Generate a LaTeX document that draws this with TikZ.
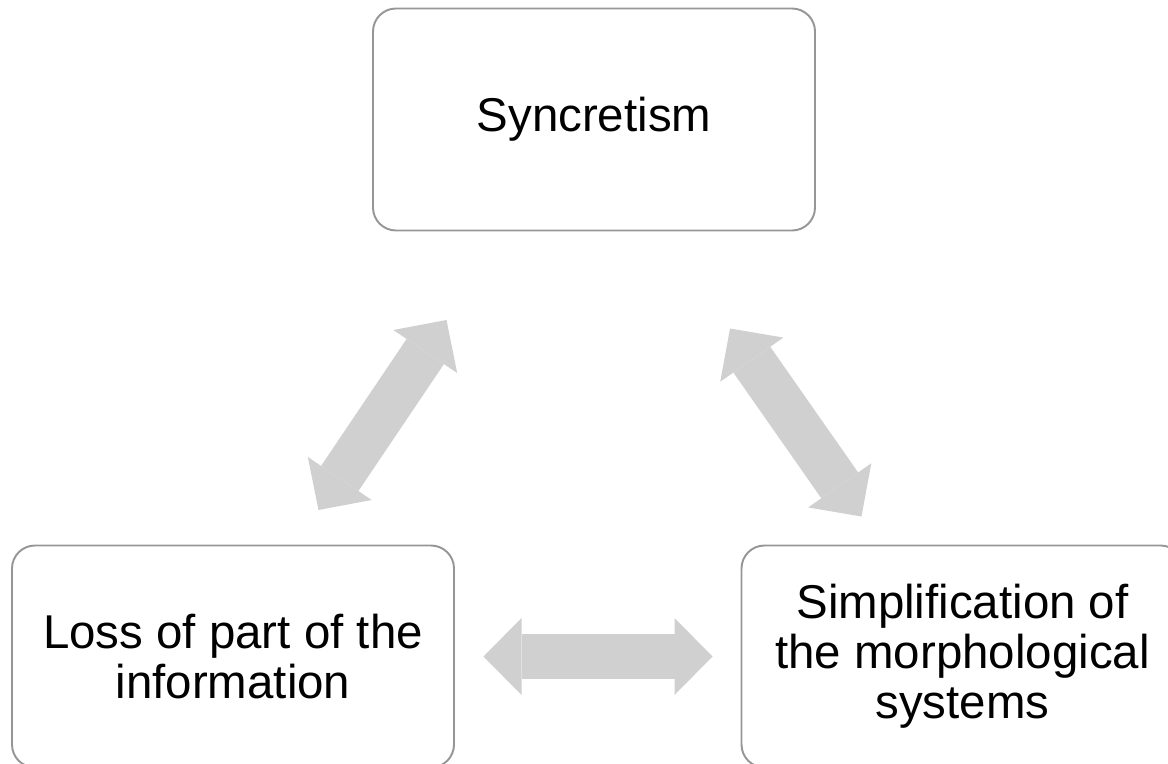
\documentclass[tikz,border=0pt]{standalone}
\usepackage{fontspec}
\setmainfont{Liberation Sans}
\usetikzlibrary{arrows.meta}
\definecolor{boxgray}{RGB}{150,150,150}
\definecolor{arrowgray}{RGB}{208,208,208}

\begin{document}
\begin{tikzpicture}[
  box/.style={draw=boxgray,line width=1.1pt,rounded corners=0.46cm,minimum width=8.84cm,minimum height=4.44cm,inner sep=0pt,align=center,font=\fontsize{27}{28.4}\selectfont},
  bigarrow/.style={draw=arrowgray,line width=0.9cm,arrows={Triangle[length=0.76cm,width=1.54cm,line width=0pt]-Triangle[length=0.76cm,width=1.54cm,line width=0pt]}}
]
\clip (0,0) rectangle (23.36,15.26) ;
% boxes
\node[box] (syn) at (11.88,12.87) {Syncretism} ;
\node[box] (loss) at (4.66,2.13) {Loss of part of the\\information} ;
\node[box] (simp) at (19.25,2.13) {Simplification of\\the morphological\\systems} ;
% double arrows
\coordinate (ls1) at (6.37,5.06) ;
\coordinate (ls2) at (8.93,8.86) ;
\coordinate (ss1) at (14.60,8.69) ;
\coordinate (ss2) at (17.23,4.93) ;
\coordinate (lm1) at (9.67,2.13) ;
\coordinate (lm2) at (14.25,2.13) ;
\draw[bigarrow] (ls1) -- (ls2) ;
\draw[bigarrow] (ss1) -- (ss2) ;
\draw[bigarrow] (lm1) -- (lm2) ;
\end{tikzpicture}
\end{document}
